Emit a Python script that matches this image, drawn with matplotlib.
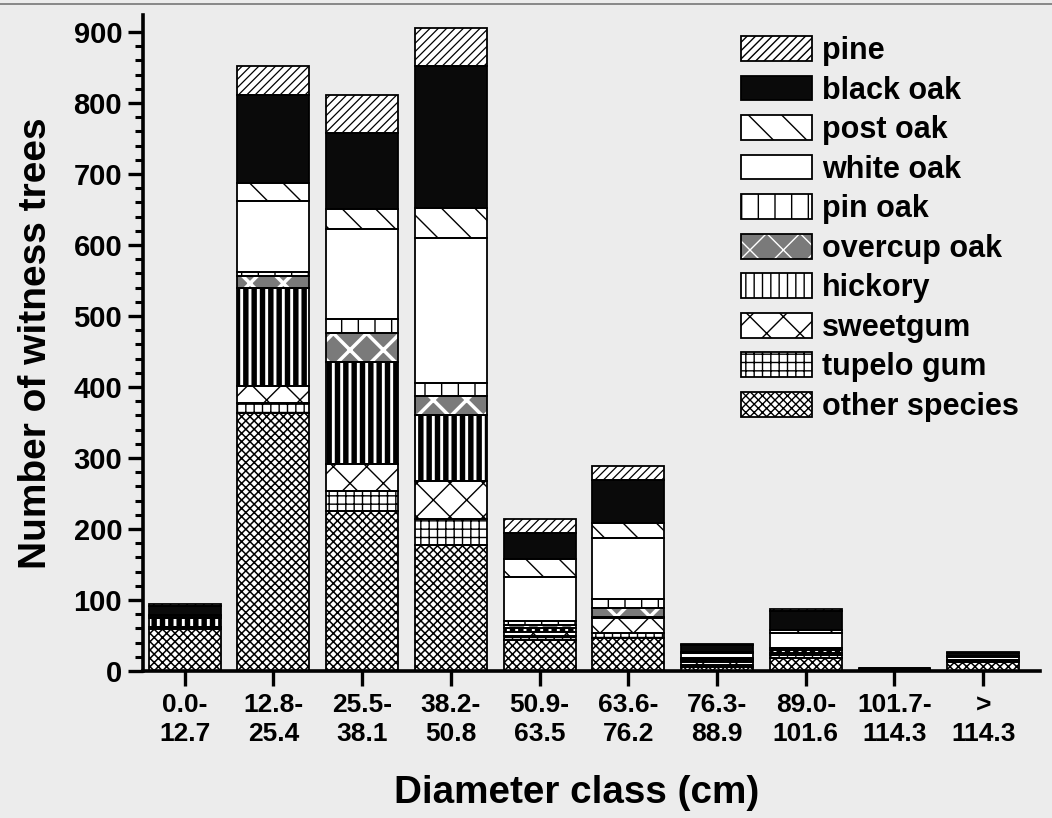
import matplotlib
matplotlib.use("Agg")
import matplotlib.pyplot as plt
import numpy as np
from matplotlib.patches import Patch
from matplotlib.legend_handler import HandlerTuple

categories = ["0.0-\n12.7", "12.8-\n25.4", "25.5-\n38.1", "38.2-\n50.8", "50.9-\n63.5",
              "63.6-\n76.2", "76.3-\n88.9", "89.0-\n101.6", "101.7-\n114.3", ">\n114.3"]

other_species = [59, 364, 225, 178, 44, 46, 5, 18, 2, 12]
tupelo_gum    = [3, 14, 29, 36, 5, 7, 4, 4, 0, 2]
sweetgum      = [0, 24, 37, 54, 6, 21, 4, 4, 0, 1]
hickory       = [12, 138, 144, 92, 5, 2, 2, 4, 0, 1]
overcup_oak   = [0, 16, 41, 27, 5, 13, 2, 3, 0, 0]
pin_oak       = [0, 6, 20, 18, 6, 12, 2, 0, 0, 0]
white_oak     = [3, 100, 126, 205, 62, 87, 6, 20, 1, 4]
post_oak      = [2, 25, 29, 42, 25, 21, 2, 5, 0, 1]
black_oak     = [13, 125, 107, 200, 36, 60, 9, 27, 1, 5]
pine          = [2, 40, 53, 53, 20, 20, 2, 2, 0, 1]

series_names = ["other species", "tupelo gum", "sweetgum", "hickory", "overcup oak",
                "pin oak", "white oak", "post oak", "black oak", "pine"]
series_vals = [other_species, tupelo_gum, sweetgum, hickory, overcup_oak,
               pin_oak, white_oak, post_oak, black_oak, pine]

# style: (facecolor, hatch, hatchcolor, hatch linewidth)
styles = {
    "other species": ("white", "xxxx", "black", 1.1),
    "tupelo gum":    ("white", "++", "black", 1.0),
    "sweetgum":      ("white", "x", "black", 1.0),
    "hickory":       ("white", "||", "black", 3.9),
    "overcup oak":   ("#7a7a7a", "x", "white", 2.5),
    "pin oak":       ("white", "|", "black", 1.0),
    "white oak":     ("white", None, "black", 1.0),
    "post oak":      ("white", "\\", "black", 1.0),
    "black oak":     ("#0a0a0a", None, "black", 1.0),
    "pine":          ("white", "////", "black", 0.9),
}

BG = "#ececec"
plt.rcParams['font.family'] = ['Liberation Sans', 'DejaVu Sans']
plt.rcParams['font.weight'] = 'bold'

fig = plt.figure(figsize=(10.52, 8.18), dpi=100, facecolor=BG)
ax = fig.add_axes([143/1052, 1-671/818, 897/1052, 656/818])
ax.set_facecolor(BG)

x = np.arange(len(categories))
width = 0.81
bottom = np.zeros(len(categories))


def set_hlw(p, lw):
    if hasattr(p, "set_hatch_linewidth"):
        p.set_hatch_linewidth(lw)


for name, vals in zip(series_names, series_vals):
    fc, hatch, hc, hlw = styles[name]
    vals = np.array(vals, dtype=float)
    with plt.rc_context({'hatch.linewidth': hlw}):
        bars = ax.bar(x, vals, width, bottom=bottom, color=fc, edgecolor=hc,
                      hatch=hatch, linewidth=0, zorder=2)
        for b in bars:
            set_hlw(b, hlw)
    ax.bar(x, vals, width, bottom=bottom, fill=False, edgecolor="black",
           linewidth=1.3, zorder=3)
    bottom += vals

ax.set_xlim(-0.47, 9.64)
ax.set_ylim(0, 924)
ax.set_yticks(np.arange(0, 901, 100))
ax.set_yticks(np.arange(0, 901, 20), minor=True)
ax.set_xticks(x)
ax.set_xticklabels(categories, fontsize=19, fontweight='bold', linespacing=1.25)
for t in ax.get_yticklabels():
    t.set_fontsize(21)
    t.set_fontweight('bold')

for s in ["top", "right"]:
    ax.spines[s].set_visible(False)
for s in ["left", "bottom"]:
    ax.spines[s].set_linewidth(2.6)
ax.tick_params(axis='y', which='major', length=11, width=2.4, pad=4)
ax.tick_params(axis='y', which='minor', length=6, width=2.2)
ax.tick_params(axis='x', which='major', length=11, width=2.4, pad=5)

ax.set_ylabel("Number of witness trees", fontsize=28, fontweight='bold', labelpad=14)
fig.text(577/1052, 1-803/818, "Diameter class (cm)", fontsize=27.8, fontweight='bold',
         ha='center', va='baseline')

# legend (top to bottom: pine ... other species)
handles = []
labels = []
for name in reversed(series_names):
    fc, hatch, hc, hlw = styles[name]
    with plt.rc_context({'hatch.linewidth': hlw}):
        p1 = Patch(facecolor=fc, edgecolor=hc, hatch=hatch, linewidth=0)
        set_hlw(p1, hlw)
    p2 = Patch(fill=False, edgecolor="black", linewidth=1.3)
    handles.append((p1, p2))
    labels.append(name)

leg = fig.legend(handles, labels, loc='upper left',
                 bbox_to_anchor=(741/1052, 1-36/818),
                 handler_map={tuple: HandlerTuple(ndivide=1, pad=0)},
                 frameon=False, prop={'size': 22, 'weight': 'bold'},
                 handlelength=2.32, handleheight=0.88, labelspacing=0.31,
                 handletextpad=0.33, borderpad=0, borderaxespad=0)

# faint scan border line at top
fig.add_artist(plt.Line2D([0, 1], [1-4/818, 1-4/818], color="#777777", linewidth=1.2,
                          transform=fig.transFigure))

fig.savefig("out.png", dpi=100, facecolor=BG)
